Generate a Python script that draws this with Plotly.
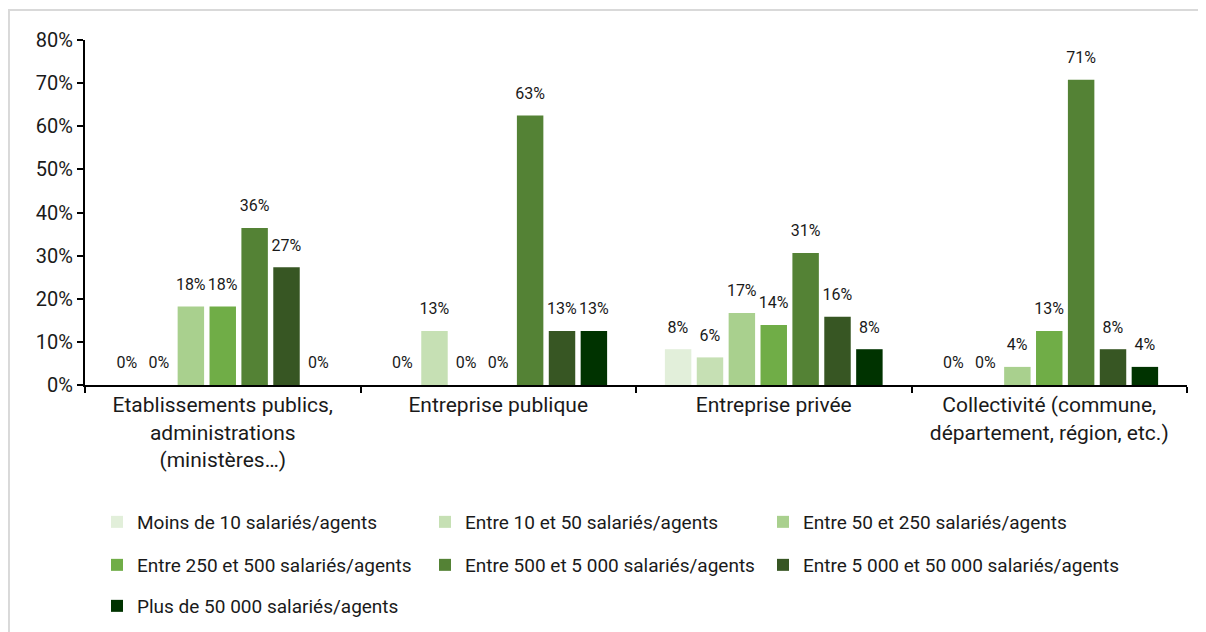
import math
import plotly.graph_objects as go

categories = [
    "Etablissements publics,<br>administrations<br>(ministères…)",
    "Entreprise publique",
    "Entreprise privée",
    "Collectivité (commune,<br>département, région, etc.)",
]

series_names = [
    "Moins de 10 salariés/agents",
    "Entre 10 et 50 salariés/agents",
    "Entre 50 et 250 salariés/agents",
    "Entre 250 et 500 salariés/agents",
    "Entre 500 et 5 000 salariés/agents",
    "Entre 5 000 et 50 000 salariés/agents",
    "Plus de 50 000 salariés/agents",
]

# share of respondents (fraction) per size class, one list per class
moins_10 = [0.0, 0.0, 0.083, 0.0]
entre_10_50 = [0.0, 0.125, 0.064, 0.0]
entre_50_250 = [0.182, 0.0, 0.167, 0.042]
entre_250_500 = [0.182, 0.0, 0.139, 0.125]
entre_500_5000 = [0.364, 0.625, 0.306, 0.708]
entre_5000_50000 = [0.273, 0.125, 0.158, 0.083]
plus_50000 = [0.0, 0.125, 0.083, 0.042]

series_values = [moins_10, entre_10_50, entre_50_250, entre_250_500,
                 entre_500_5000, entre_5000_50000, plus_50000]

colors = ["#E2EFDA", "#C6E0B4", "#A9D08E", "#70AD47", "#548235", "#375623", "#003300"]

FONT = "Roboto, sans-serif"
TXT = "#1a1a1a"
# page body keeps its default 8px margin, so the figure is 8px smaller than the window
W, H = 1198, 624


def pct(v):
    return f"{math.floor(v * 100 + 0.5)}%"


# legend grid: 3 columns, entries flow row by row
col_px = [112, 440, 778]
row_px = [514, 557, 598]

fig = go.Figure()
legends = {}
for i, (name, vals, col) in enumerate(zip(series_names, series_values, colors)):
    lg = "legend" if i == 0 else f"legend{i + 1}"
    fig.add_bar(
        name=name, x=categories, y=vals, marker_color=col, marker_line_width=0,
        text=[pct(v) for v in vals],
        # small empty second line lifts the label a bit above the bar
        texttemplate="<span style='font-size:16px'>%{text}</span><br> ",
        textposition="outside", textfont=dict(size=9, color=TXT, family=FONT),
        constraintext="none", cliponaxis=False, legend=lg,
    )
    legends[lg] = dict(
        orientation="h", xref="container", yref="container",
        x=(col_px[i % 3] - 23) / W, y=1 - row_px[i // 3] / H,
        xanchor="left", yanchor="middle",
        font=dict(size=19, color=TXT, family=FONT),
        itemwidth=30, bgcolor="rgba(0,0,0,0)",
    )

fig.update_layout(
    width=W, height=H,
    margin=dict(l=77, r=19, t=32, b=247, autoexpand=False),
    paper_bgcolor="white", plot_bgcolor="white",
    font=dict(family=FONT, color=TXT),
    barmode="group", bargap=0.19, bargroupgap=0.17,
    showlegend=True,
    **legends,
    xaxis=dict(
        showline=True, linecolor="black", linewidth=2,
        ticks="outside", tickcolor="black", ticklen=6, tickwidth=2,
        tickson="boundaries", tickfont=dict(size=21, color=TXT, family=FONT),
        showgrid=False, automargin=False,
    ),
    yaxis=dict(
        range=[0, 0.8], dtick=0.1, tickformat=".0%",
        showline=True, linecolor="black", linewidth=2,
        ticks="outside", tickcolor="black", ticklen=6, tickwidth=2,
        tickfont=dict(size=20, color=TXT, family=FONT),
        showgrid=False, zeroline=False, automargin=False,
    ),
    shapes=[dict(
        type="rect", xref="paper", yref="paper",
        x0=-0.0690, x1=1.03, y0=-0.75, y1=1.087,
        line=dict(color="#D9D9D9", width=2), fillcolor="rgba(0,0,0,0)", layer="below",
    )],
)

fig.write_html("out.html")
